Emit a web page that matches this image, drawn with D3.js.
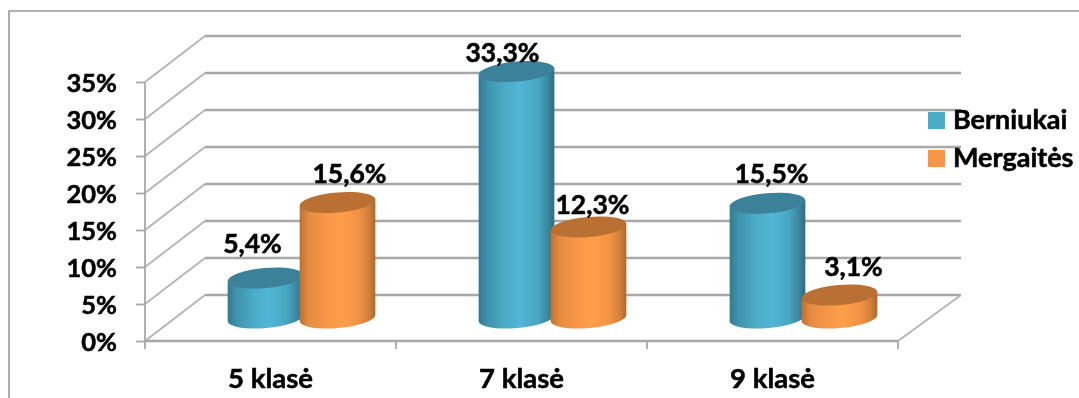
<!DOCTYPE html>
<html><head><meta charset="utf-8">
<script src="https://d3js.org/d3.v7.min.js"></script>
<style>
html,body{margin:0;padding:0;background:#fff}
svg{display:block}
text{font-family:Lato,Carlito,sans-serif;font-weight:700;fill:#000;stroke:#000;stroke-width:.55px}
</style></head><body><div id="c"></div>
<script>
const categories = ["5 klasė","7 klasė","9 klasė"];
const seriesNames = ["Berniukai","Mergaitės"];
const berniukai = [5.4,33.3,15.5];
const mergaites = [15.6,12.3,3.1];
const yTicks = [0,5,10,15,20,25,30,35];
const labelNudgeX = [[-13,-14,4],[12,4,14]];
const labelNudgeY = [[-25,-10,-20],[-20,-13,-19]];

const W=1079,H=398, depthX=60, depthY=-46, backRight=961;
const svg=d3.select("#c").append("svg").attr("width",W).attr("height",H);
const defs=svg.append("defs");
const blur=defs.append("filter").attr("id","soft");
blur.append("feGaussianBlur").attr("stdDeviation",0.5);
const palettes=[
 {id:"gb",stops:[[0,"#347a90"],[.12,"#3f93ad"],[.35,"#4bacc6"],[.55,"#52b6d6"],[.78,"#48a6c1"],[.92,"#3a859e"],[1,"#2f6b80"]],cap:"#3a8199",sw:"#4bacc6"},
 {id:"go",stops:[[0,"#bd6f30"],[.12,"#e58c42"],[.35,"#f79646"],[.55,"#ff9e4a"],[.78,"#f29345"],[.92,"#cf7f3a"],[1,"#ad682e"]],cap:"#ba7033",sw:"#f79646"}];
palettes.forEach(p=>{
  const g=defs.append("linearGradient").attr("id",p.id);
  p.stops.forEach(s=>g.append("stop").attr("offset",s[0]).attr("stop-color",s[1]));
});

const x=d3.scaleBand().domain(categories).range([145,898]);
const y=d3.scaleLinear().domain([0,35]).range([341,82]);
const pct=d=>d+"%";
const grid="#a8a8a8";

svg.append("path").attr("d","M9,398V11H1079").attr("fill","none").attr("stroke","#999").attr("stroke-width",1.6);

const g=svg.append("g").attr("filter","url(#soft)");
yTicks.forEach(t=>{
  g.append("line").attr("x1",145).attr("y1",y(t)).attr("x2",145+depthX).attr("y2",y(t)+depthY)
   .attr("stroke","#b4b4b4").attr("stroke-width",1.8);
  g.append("line").attr("x1",145+depthX).attr("y1",y(t)+depthY).attr("x2",backRight).attr("y2",y(t)+depthY)
   .attr("stroke",grid).attr("stroke-width",2.6);
});
g.append("line").attr("x1",898).attr("y1",y(0)).attr("x2",backRight).attr("y2",y(0)+depthY)
 .attr("stroke","#b4b4b4").attr("stroke-width",1.8);
g.append("line").attr("x1",145).attr("y1",y(0)).attr("x2",898).attr("y2",y(0)).attr("stroke",grid).attr("stroke-width",2.6);

const yAxis=d3.axisLeft(y).tickValues(yTicks).tickFormat(pct).tickSize(9).tickPadding(19);
const ya=g.append("g").attr("transform","translate(145,0)").call(yAxis);
ya.select(".domain").attr("stroke",grid).attr("stroke-width",1.8).attr("d",`M0,${y(35)}V${y(0)+8}`);
ya.selectAll(".tick line").attr("stroke",grid).attr("stroke-width",1.8);
ya.selectAll("text").attr("font-size",25.5).style("font-family","Lato").attr("dy","0.36em");

const xAxis=d3.axisBottom(x).tickSize(0).tickPadding(27);
const xa=g.append("g").attr("transform",`translate(0,${y(0)})`).call(xAxis);
xa.select(".domain").remove();
xa.selectAll("text").attr("font-size",27.5).style("font-family","Lato");
categories.forEach(c=>g.append("line").attr("x1",x(c)+x.bandwidth()).attr("x2",x(c)+x.bandwidth())
  .attr("y1",y(0)).attr("y2",y(0)+8).attr("stroke",grid).attr("stroke-width",1.8));

const rx=38, ry=10, rot=-5, rad=rot*Math.PI/180;
const dxE=rx*Math.cos(rad), dyE=rx*Math.sin(rad);
const halfStep=36;
const series=[berniukai,mergaites];
const baseY=y(0)+depthY/2;
const centre=(c,s)=>x(c)+x.bandwidth()/2+depthX/2+1+(s===0?-halfStep:halfStep);
series.forEach((vals,s)=>{
  const p=palettes[s];
  categories.forEach((c,i)=>{
    const cx=centre(c,s);
    const top=y(vals[i])+depthY/2, bot=baseY;
    const G=g.append("g");
    G.append("path").attr("fill",`url(#${p.id})`)
     .attr("d",`M${cx-dxE},${top-dyE}L${cx-dxE},${bot-dyE}A${rx},${ry} ${rot} 0 0 ${cx+dxE},${bot+dyE}L${cx+dxE},${top+dyE}Z`);
    G.append("ellipse").attr("cx",cx).attr("cy",top).attr("rx",rx).attr("ry",ry)
     .attr("transform",`rotate(${rot} ${cx} ${top})`).attr("fill",p.cap);
  });
});
series.forEach((vals,s)=>{
  categories.forEach((c,i)=>{
    g.append("text").attr("x",centre(c,s)+labelNudgeX[s][i]).attr("y",y(vals[i])+depthY/2+labelNudgeY[s][i])
     .attr("text-anchor","middle").attr("font-size",26.5).text(String(vals[i]).replace(".",",")+"%");
  });
});
const lg=d3.scalePoint().domain(seriesNames).range([120.5,158.5]);
seriesNames.forEach((n,s)=>{
  g.append("rect").attr("x",928).attr("y",lg(n)-8.5).attr("width",17).attr("height",17).attr("fill",palettes[s].sw);
  g.append("text").attr("x",953).attr("y",lg(n)+8).attr("font-size",27).text(n);
});
</script></body></html>
